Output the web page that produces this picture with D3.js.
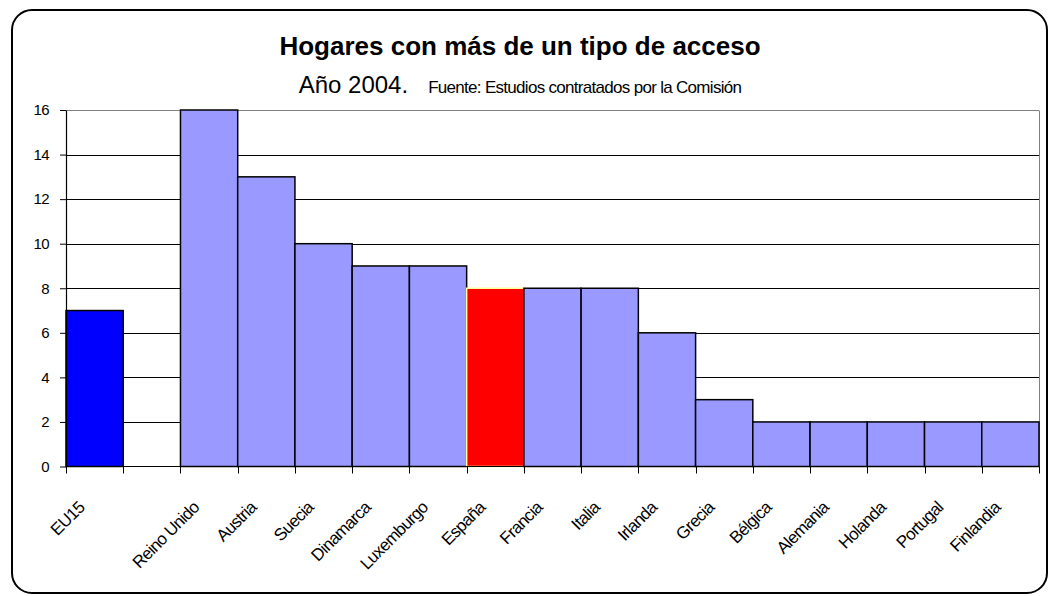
<!DOCTYPE html>
<html>
<head>
<meta charset="utf-8">
<script src="https://cdn.jsdelivr.net/npm/d3@7"></script>
<style>
  body { margin: 0; background: #fff; }
  svg { display: block; font-family: "Liberation Sans", Arial, sans-serif; }
</style>
</head>
<body>
<svg id="chart" width="1049" height="596"></svg>
<script>
// datos
const paises = ["EU15", "", "Reino Unido", "Austria", "Suecia", "Dinamarca", "Luxemburgo",
  "España", "Francia", "Italia", "Irlanda", "Grecia", "Bélgica", "Alemania", "Holanda",
  "Portugal", "Finlandia"];
const valores = [7, null, 16, 13, 10, 9, 9, 8, 8, 8, 6, 3, 2, 2, 2, 2, 2];
const yTicks = [0, 2, 4, 6, 8, 10, 12, 14, 16];

const width = 1049, height = 596;
const margin = { top: 110, right: 10, bottom: 130, left: 66 };
const x0 = margin.left, x1 = width - margin.right;
const y0 = height - margin.bottom, y1 = margin.top;

const svg = d3.select("#chart");

// marco redondeado
svg.append("rect")
    .attr("x", 12).attr("y", 10)
    .attr("width", 1035).attr("height", 583)
    .attr("rx", 20)
    .attr("fill", "#fff")
    .attr("stroke", "#000")
    .attr("stroke-width", 2);

const x = d3.scaleBand()
    .domain(d3.range(paises.length))
    .range([x0, x1])
    .padding(0);

const y = d3.scaleLinear()
    .domain([0, 16])
    .range([y0 + 0.5, y1]);

// lineas de division
svg.append("g")
  .selectAll("line")
  .data(yTicks.filter(function (d) { return d > 0 }))
  .join("line")
    .attr("x1", x0).attr("x2", x1)
    .attr("y1", function (d) { return Math.round(y(d)) + 0.5 })
    .attr("y2", function (d) { return Math.round(y(d)) + 0.5 })
    .attr("stroke", function (d) { return d == 16 ? "#808080" : "#000" })
    .attr("stroke-width", 1);

// borde derecho del area de trazado
svg.append("line")
    .attr("x1", x1 + 0.5).attr("x2", x1 + 0.5)
    .attr("y1", Math.round(y(16)) + 0.5).attr("y2", y0)
    .attr("stroke", "#808080");

// barras
const datos = paises.map(function (p, i) { return { pais: p, valor: valores[i], i: i } });

svg.append("g")
  .selectAll("rect")
  .data(datos.filter(function (d) { return d.valor != null }))
  .join("rect")
    .attr("x", function (d) { return x(d.i) })
    .attr("width", x.bandwidth())
    .attr("y", function (d) { return y(d.valor) })
    .attr("height", function (d) { return y(0) - y(d.valor) })
    .attr("fill", function (d) {
      if (d.pais == "EU15") return "#0000ff";
      if (d.pais == "España") return "#ff0000";
      return "#9999ff";
    })
    .attr("stroke", function (d) { return d.pais == "España" ? "#ffff99" : "#000" })
    .attr("stroke-width", 1.5);

// eje y
const yAxis = svg.append("g")
    .attr("transform", "translate(" + x0 + ",0)")
    .call(d3.axisLeft(y).tickValues(yTicks).tickSize(6).tickSizeOuter(0));
yAxis.select(".domain").attr("stroke", "#000").attr("stroke-width", 1.2);
yAxis.selectAll(".tick line").attr("stroke", "#000");
yAxis.selectAll(".tick text")
    .attr("font-size", 15)
    .attr("letter-spacing", -0.6)
    .attr("font-family", "'Liberation Sans', Arial, sans-serif")
    .attr("fill", "#000")
    .attr("x", -17);

// eje x
const xAxis = svg.append("g")
    .attr("transform", "translate(0," + (y0 + 0.5) + ")");
xAxis.append("line")
    .attr("x1", x0).attr("x2", x1)
    .attr("stroke", "#000").attr("stroke-width", 1.2);
xAxis.selectAll("line.tk")
  .data(d3.range(paises.length + 1))
  .join("line")
    .attr("class", "tk")
    .attr("x1", function (d) { return Math.round(x0 + d * x.step()) + 0.5 })
    .attr("x2", function (d) { return Math.round(x0 + d * x.step()) + 0.5 })
    .attr("y1", 0).attr("y2", 7)
    .attr("stroke", "#000");
xAxis.selectAll("text")
  .data(datos)
  .join("text")
    .attr("transform", function (d) {
      return "translate(" + (x(d.i) + x.bandwidth() / 2 - 9) + ",42) rotate(-45)";
    })
    .attr("text-anchor", "end")
    .attr("font-size", 17)
    .attr("letter-spacing", -0.7)
    .attr("fill", "#000")
    .text(function (d) { return d.pais });

// titulos
svg.append("text")
    .attr("x", 520).attr("y", 55)
    .attr("text-anchor", "middle")
    .attr("font-size", 26)
    .attr("font-weight", "bold")
    .text("Hogares con más de un tipo de acceso");

const sub = svg.append("text")
    .attr("x", 520).attr("y", 93)
    .attr("text-anchor", "middle");
sub.append("tspan").attr("font-size", 24).text("Año 2004.");
sub.append("tspan").attr("font-size", 17).attr("letter-spacing", -0.7).attr("dx", 20)
    .text("Fuente: Estudios contratados por la Comisión");
</script>
</body>
</html>
